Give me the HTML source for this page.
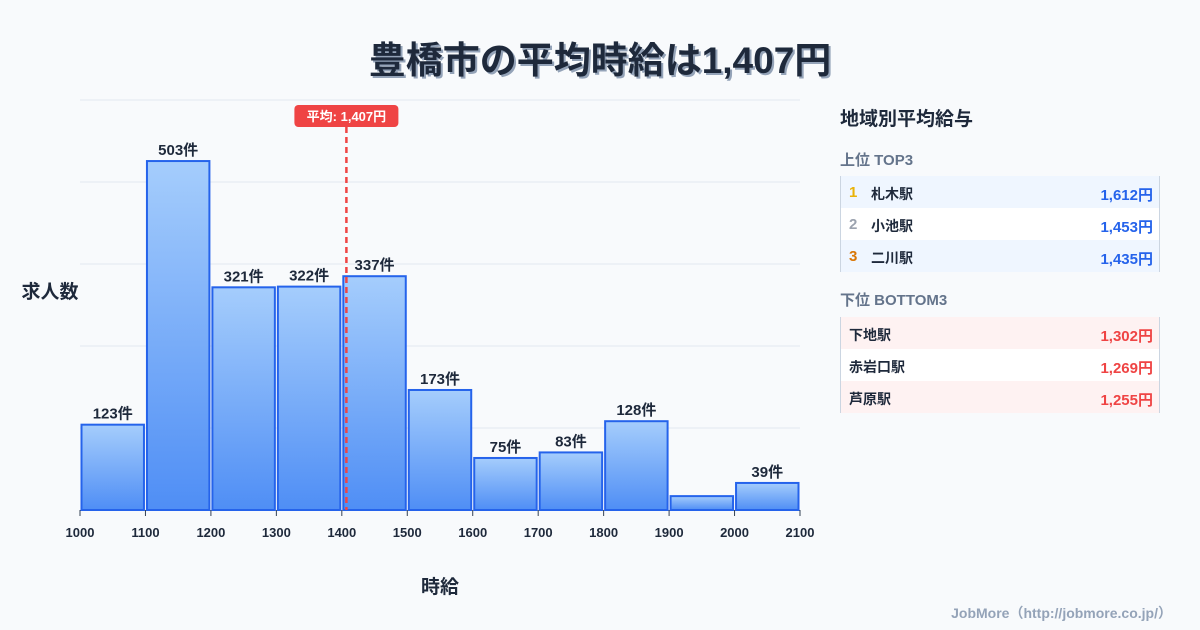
<!DOCTYPE html>
<html><head><meta charset="utf-8"><style>
body{margin:0;width:1200px;height:630px;background:#f8fafc;font-family:"Liberation Sans","Noto Sans CJK JP",sans-serif;color:#1e293b;overflow:hidden;position:relative}
.t{position:absolute}
.title{left:0;width:1200px;top:30px;text-align:center;font-size:37px;font-weight:bold;text-shadow:2px 2px 0 #94a3b8;color:#1e293b}
.row{position:absolute;left:840px;width:320px;height:32px;font-size:14px;font-weight:bold;border-left:1px solid #cbd5e1;border-right:1px solid #cbd5e1;box-sizing:border-box}
.row span{position:absolute;top:8px}
.val{right:6px;font-size:15px}
</style></head><body>
<div class="t title">豊橋市の平均時給は1,407円</div>
<svg class="t" style="left:0;top:0" width="830" height="630" id="chart">
<defs><linearGradient id="g" x1="0" y1="0" x2="0" y2="1"><stop offset="0" stop-color="#a5cdfc"/><stop offset="1" stop-color="#4f8ef5"/></linearGradient></defs>
<g id="grid"></g><g id="bars"></g><g id="axis"></g>
<text x="50" y="298" font-size="19" font-weight="bold" text-anchor="middle" fill="#1e293b">求人数</text>
<text x="440" y="593" font-size="19" font-weight="bold" text-anchor="middle" fill="#1e293b">時給</text>
</svg>
<div class="t" style="left:840px;top:104px;font-size:19px;font-weight:bold">地域別平均給与</div>
<div class="t" style="left:840px;top:149px;font-size:15px;font-weight:bold;color:#64748b">上位 TOP3</div>
<div class="row" style="top:176px;background:#eff6ff"><span style="left:8px;color:#eab308;font-size:15px">1</span><span style="left:30px">札木駅</span><span class="val" style="color:#2563eb">1,612円</span></div>
<div class="row" style="top:208px;background:#fff"><span style="left:8px;color:#9ca3af;font-size:15px">2</span><span style="left:30px">小池駅</span><span class="val" style="color:#2563eb">1,453円</span></div>
<div class="row" style="top:240px;background:#eff6ff"><span style="left:8px;color:#d97706;font-size:15px">3</span><span style="left:30px">二川駅</span><span class="val" style="color:#2563eb">1,435円</span></div>
<div class="t" style="left:840px;top:289px;font-size:15px;font-weight:bold;color:#64748b">下位 BOTTOM3</div>
<div class="row" style="top:317px;background:#fef2f2"><span style="left:8px">下地駅</span><span class="val" style="color:#ef4444">1,302円</span></div>
<div class="row" style="top:349px;background:#fff"><span style="left:8px">赤岩口駅</span><span class="val" style="color:#ef4444">1,269円</span></div>
<div class="row" style="top:381px;background:#fef2f2"><span style="left:8px">芦原駅</span><span class="val" style="color:#ef4444">1,255円</span></div>
<div class="t" style="right:28px;top:603px;font-size:14px;font-weight:bold;color:#94a3b8">JobMore（http://jobmore.co.jp/）</div>
<script>
const binStarts=[1000,1100,1200,1300,1400,1500,1600,1700,1800,1900,2000];
const counts=[123,503,321,322,337,173,75,83,128,20,39];
const labels=["123件","503件","321件","322件","337件","173件","75件","83件","128件","","39件"];
const xTicks=[1000,1100,1200,1300,1400,1500,1600,1700,1800,1900,2000,2100];
const meanValue=1407;
const NS="http://www.w3.org/2000/svg";
const X0=80,X1=800,Y0=510,Y1=100,xmin=1000,xmax=2100,ymax=591;
const x=v=>X0+(v-xmin)/(xmax-xmin)*(X1-X0);
const y=v=>Y0-v/ymax*(Y0-Y1);
function mk(tag,attrs,parent){const e=document.createElementNS(NS,tag);for(const k in attrs)e.setAttribute(k,attrs[k]);document.getElementById(parent).appendChild(e);return e;}
for(let i=0;i<=5;i++){const gy=Y0-i*(Y0-Y1)/5;const l=mk('line',{x1:X0,x2:X1,y1:gy,y2:gy,stroke:'#e2e8f0','stroke-width':1},'grid');

}
binStarts.forEach((b,i)=>{const xa=x(b)+1.5,xb=x(b+100)-1.5,yt=y(counts[i]);
const r=mk('rect',{x:xa,y:yt,width:xb-xa,height:Y0-yt,fill:'url(#g)',stroke:'#2563eb','stroke-width':2},'bars');


if(labels[i]){const t=mk('text',{x:(xa+xb)/2,y:yt-6,'text-anchor':'middle','font-size':15,'font-weight':'bold',fill:'#1e293b'},'bars');t.textContent=labels[i];

}});
xTicks.forEach(v=>{mk('line',{x1:x(v),x2:x(v),y1:Y0,y2:Y0+6,stroke:'#334155','stroke-width':1},'axis');
const t=mk('text',{x:x(v),y:537,'text-anchor':'middle','font-size':13,'font-weight':'bold',fill:'#1e293b'},'axis');t.textContent=v;

});
const mx=x(meanValue);
const ml=mk('line',{x1:mx,x2:mx,y1:127,y2:Y0,stroke:'#ef4444','stroke-width':2.5,'stroke-dasharray':'6,4'},'axis');


const mb=mk('rect',{x:mx-52,y:105,width:104,height:22,rx:4,fill:'#ef4444'},'axis');


const mt=mk('text',{x:mx,y:121,'text-anchor':'middle','font-size':13,'font-weight':'bold',fill:'#fff'},'axis');mt.textContent='平均: 1,407円';


</script>
</body></html>
